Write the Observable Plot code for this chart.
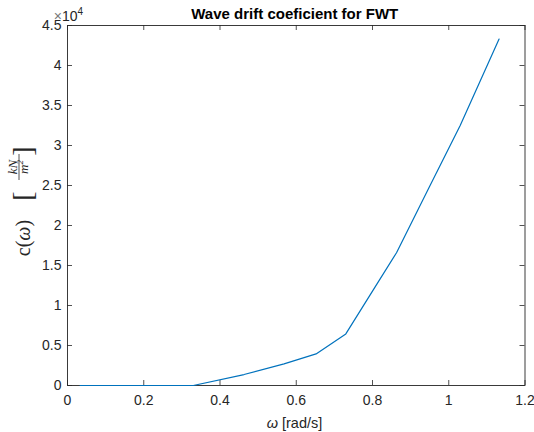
<!DOCTYPE html>
<html>
<head>
<meta charset="utf-8">
<script src="https://cdn.jsdelivr.net/npm/d3@7"></script>
<script src="https://cdn.jsdelivr.net/npm/@observablehq/plot@0.6"></script>
<style>
  html, body { margin: 0; padding: 0; background: #fff; }
</style>
</head>
<body>
<div id="chart"></div>
<script>
// ---- data ----
const omega = [0.033, 0.33, 0.463, 0.568, 0.652, 0.730, 0.80, 0.863, 0.95, 1.03, 1.132];
const coef  = [0, 0, 1370, 2700, 3950, 6450, 11800, 16600, 24900, 32500, 43300];
const xTicks = [0, 0.2, 0.4, 0.6, 0.8, 1, 1.2];
const xTickLabels = ["0", "0.2", "0.4", "0.6", "0.8", "1", "1.2"];
const yTicks = [0, 5000, 10000, 15000, 20000, 25000, 30000, 35000, 40000, 45000];
const yTickLabels = ["0", "0.5", "1", "1.5", "2", "2.5", "3", "3.5", "4", "4.5"];
const titleText = "Wave drift coeficient for FWT";

const data = omega.map((w, i) => ({w, c: coef[i]}));

const W = 534, H = 432, mL = 67, mR = 9.5, mT = 25, mB = 47;
const innerW = W - mL - mR, innerH = H - mT - mB;
const tickLen = 5;
const axisCol = "#262626";

const svg = Plot.plot({
  width: W, height: H,
  marginLeft: mL, marginRight: mR, marginTop: mT, marginBottom: mB,
  style: {fontFamily: "'Liberation Sans', Arial, Helvetica, sans-serif", fontSize: "14px", background: "#fff", color: axisCol},
  x: {domain: [0, 1.2], axis: null},
  y: {domain: [0, 45000], axis: null},
  marks: [
    Plot.ruleX(xTicks, {x: d => d, insetTop: innerH - tickLen, stroke: axisCol, strokeWidth: 0.8}),
    Plot.ruleX(xTicks, {x: d => d, insetBottom: innerH - tickLen, stroke: axisCol, strokeWidth: 0.8}),
    Plot.ruleY(yTicks, {y: d => d, insetRight: innerW - tickLen, stroke: axisCol, strokeWidth: 0.8}),
    Plot.ruleY(yTicks, {y: d => d, insetLeft: innerW - tickLen, stroke: axisCol, strokeWidth: 0.8}),
    Plot.frame({stroke: axisCol, strokeWidth: 0.9}),
    Plot.line(data, {x: "w", y: "c", stroke: "#0072BD", strokeWidth: 1.2}),
    Plot.text(xTicks, {x: d => d, text: (d, i) => xTickLabels[i], frameAnchor: "bottom", lineAnchor: "top", dy: 10, fontSize: 14, fill: axisCol}),
    Plot.text(yTicks, {y: d => d, text: (d, i) => yTickLabels[i], frameAnchor: "left", textAnchor: "end", dx: -6, fontSize: 14, fill: axisCol})
  ]
});
document.getElementById("chart").appendChild(svg);

const s = d3.select(svg);
// title
s.append("text")
  .attr("x", mL + innerW / 2 - 1).attr("y", 19)
  .attr("text-anchor", "middle")
  .attr("font-weight", "bold").attr("font-size", 15).attr("fill", "#000")
  .text(titleText);
// exponent
const ex = s.append("text").attr("x", 68.5).attr("y", 21).attr("font-size", 14).attr("fill", axisCol);
ex.append("tspan").attr("fill", "#777").text("\u00d7");
ex.append("tspan").text("10");
ex.append("tspan").attr("font-size", 10).attr("dy", -6).text("4");
// x label
const xl = s.append("text").attr("x", 294.5).attr("y", 428).attr("text-anchor", "middle").attr("font-size", 14.5).attr("fill", axisCol);
xl.append("tspan").attr("font-style", "italic").text("\u03c9");
xl.append("tspan").text(" [rad/s]");
// y label (LaTeX-like)
const g = s.append("g").attr("transform", "translate(30,238) rotate(-90)")
  .attr("font-family", "'Liberation Serif', 'DejaVu Serif', serif").attr("fill", axisCol);
const t1 = g.append("text").attr("x", 0).attr("y", 0).attr("font-size", 20);
t1.append("tspan").text("c(");
t1.append("tspan").attr("font-style", "italic").text("\u03c9");
t1.append("tspan").text(")");
g.append("text").attr("x", 42).attr("y", 2).attr("font-size", 28).text("[");
g.append("text").attr("x", 71).attr("y", -13.5).attr("text-anchor", "middle").attr("font-size", 13).attr("font-style", "italic").text("kN");
g.append("line").attr("x1", 58).attr("x2", 84).attr("y1", -11).attr("y2", -11).attr("stroke", axisCol).attr("stroke-width", 0.8);
const den = g.append("text").attr("x", 71).attr("y", -2).attr("text-anchor", "middle").attr("font-size", 13).attr("font-style", "italic");
den.append("tspan").text("m");
den.append("tspan").attr("font-size", 9).attr("dy", -5).text("2");
g.append("text").attr("x", 87).attr("y", 2).attr("font-size", 28).text("]");
</script>
</body>
</html>
